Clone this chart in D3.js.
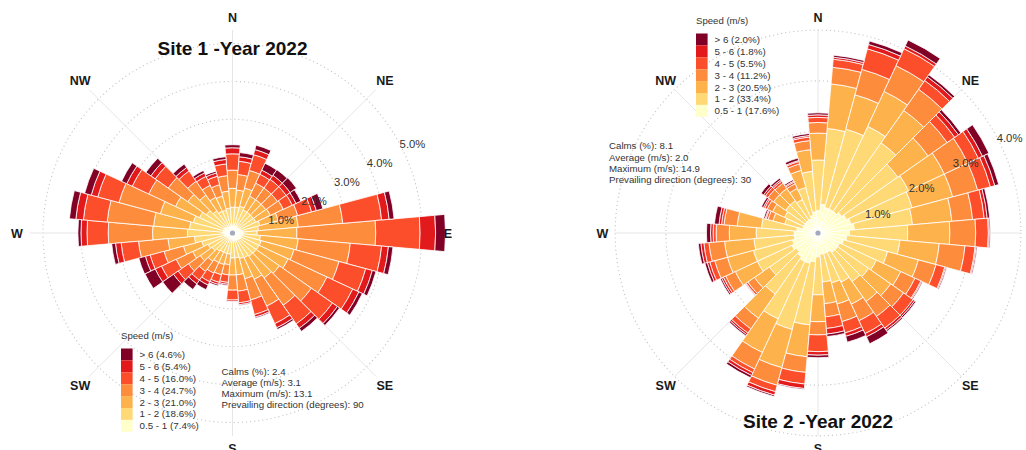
<!DOCTYPE html>
<html>
<head>
<meta charset="utf-8">
<script src="https://cdn.jsdelivr.net/npm/d3@7"></script>
<style>
  body { margin: 0; background: #fff; }
  text { font-family: "Liberation Sans", Arial, Helvetica, sans-serif; }
</style>
</head>
<body>
<svg id="chart" width="1026" height="450"></svg>
<script>
// Wind directions (degrees), one 10° sector each
const directions = d3.range(10, 361, 10);
const compassLabels = ["N", "NE", "E", "SE", "S", "SW", "W", "NW"];
const compassAngles = [0, 45, 90, 135, 180, 225, 270, 315];

// Speed classes, slowest first
const speedBins = ["0.5 - 1", "1 - 2", "2 - 3", "3 - 4", "4 - 5", "5 - 6", "> 6"];
const binColors = ["#ffffcc", "#fed976", "#feb24c", "#fd8d3c", "#fc4e2a", "#e31a1c", "#800026"];

// Site 1 — frequency (%) of each speed class for directions 10°..360°
const site1Speed05to1 = [.20,.21,.20,.20,.20,.21,.23,.27,.29,.27,.26,.25,.24,.23,.22,.21,.19,.19,.17,.17,.17,.17,.19,.19,.22,.24,.27,.25,.25,.24,.22,.20,.19,.18,.19,.19];
const site1Speed1to2  = [.49,.52,.47,.47,.47,.47,.52,.42,.36,.47,.52,.52,.52,.52,.50,.49,.47,.47,.39,.39,.39,.42,.47,.52,.62,.77,.92,.89,.82,.72,.62,.52,.45,.45,.47,.49];
const site1Speed2to3  = [.45,.50,.40,.40,.40,.42,.50,1.05,1.05,1.00,.90,.85,.75,.70,.63,.55,.45,.45,.28,.30,.30,.32,.38,.45,.50,.70,.92,.95,.90,.70,.60,.50,.40,.38,.45,.50];
const site1Speed3to4  = [.41,.48,.38,.38,.38,.38,.53,1.18,2.08,1.38,1.23,1.13,1.03,.88,.78,.58,.43,.40,.27,.28,.31,.33,.38,.48,.53,.78,1.17,1.23,1.13,.78,.63,.45,.35,.31,.41,.48];
const site1Speed4to5  = [.35,.43,.26,.28,.28,.26,.38,1.03,1.17,.83,.73,.75,.68,.60,.51,.40,.31,.26,.20,.21,.25,.28,.33,.43,.38,.46,.56,.63,.58,.48,.42,.33,.26,.23,.31,.43];
const site1Speed5to6  = [.12,.14,.12,.13,.13,.11,.13,.20,.41,.18,.18,.18,.16,.14,.12,.07,.05,.04,.05,.06,.10,.12,.15,.18,.13,.15,.16,.20,.18,.16,.14,.11,.10,.09,.12,.16];
const site1SpeedOver6 = [.11,.12,.20,.18,.20,.14,.18,.13,.26,.12,.10,.10,.07,.10,.05,.03,.02,.01,.03,.04,.13,.18,.35,.30,.18,.10,.08,.17,.18,.15,.16,.11,.07,.05,.07,.08];

// Site 2 — frequency (%) of each speed class for directions 10°..360°
const site2Speed05to1 = [.57,.52,.52,.52,.57,.62,.67,.72,.62,.57,.52,.47,.47,.47,.42,.42,.42,.47,.57,.62,.62,.57,.52,.57,.52,.47,.47,.42,.31,.31,.31,.31,.31,.36,.42,.44];
const site2Speed1to2  = [1.50,1.60,1.80,1.65,1.35,1.35,1.25,1.15,1.15,1.05,.90,.80,.75,.70,.65,.60,.55,.75,1.25,1.35,1.25,.90,.65,.75,.80,.80,.75,.70,.37,.42,.47,.47,.42,.57,.80,1.00];
const site2Speed2to3  = [.88,.70,.76,.78,.73,.78,.83,.78,.83,.78,.63,.53,.53,.48,.48,.43,.43,.53,.63,.78,.73,.58,.36,.48,.53,.58,.53,.48,.24,.26,.29,.29,.24,.35,.43,.53];
const site2Speed3to4  = [.33,.52,.56,.51,.46,.51,.51,.41,.51,.51,.36,.31,.31,.36,.36,.36,.26,.26,.31,.36,.36,.26,.16,.21,.26,.31,.26,.26,.10,.12,.14,.13,.10,.13,.18,.21];
const site2Speed4to5  = [.16,.42,.37,.21,.18,.23,.26,.23,.25,.20,.18,.13,.23,.28,.28,.23,.23,.33,.23,.13,.08,.10,.04,.05,.10,.10,.06,.05,.04,.05,.06,.05,.04,.05,.07,.10];
const site2Speed5to6  = [.04,.09,.06,.09,.09,.09,.09,.06,.02,.02,.02,.02,.04,.05,.07,.07,.11,.07,.09,.07,.06,.04,.01,.04,.05,.06,.05,.05,.02,.03,.04,.03,.02,.02,.03,.05];
const site2SpeedOver6 = [.04,.07,.13,.05,.06,.14,.08,.05,.02,.02,.02,.02,.03,.03,.15,.12,.05,.05,.02,.03,.05,.03,.01,.03,.05,.05,.08,.09,.03,.04,.06,.04,.03,.05,.04,.04];

// Legend shares and summary statistics
const site1Shares = ["4.6%", "5.4%", "16.0%", "24.7%", "21.0%", "18.6%", "7.4%"];
const site2Shares = ["2.0%", "1.8%", "5.5%", "11.2%", "20.5%", "33.4%", "17.6%"];
const site1Stats = ["Calms (%): 2.4", "Average (m/s): 3.1", "Maximum (m/s): 13.1", "Prevailing direction (degrees): 90"];
const site2Stats = ["Calms (%): 8.1", "Average (m/s): 2.0", "Maximum (m/s): 14.9", "Prevailing direction (degrees): 30"];
const site1Rings = [1, 2, 3, 4, 5];
const site2Rings = [1, 2, 3, 4];

const svg = d3.select("#chart");
const rad = Math.PI / 180;

function drawRose(cfg) {
  const g = svg.append("g").attr("transform", `translate(${cfg.cx},${cfg.cy})`);

  const table = directions.map((d, i) => {
    const row = { dir: d };
    speedBins.forEach((b, k) => { row[b] = cfg.series[k][i]; });
    return row;
  });
  const stacked = d3.stack().keys(speedBins)(table);
  const maxTotal = d3.max(stacked[stacked.length - 1], s => s[1]);
  const r = d3.scaleLinear().domain([0, maxTotal]).range([0, 213]);

  // dotted frequency rings
  g.selectAll("circle.ring").data(cfg.rings).join("circle")
    .attr("class", "ring")
    .attr("r", d => r(d))
    .attr("fill", "none")
    .attr("stroke", "#c4c4c4")
    .attr("stroke-width", 1.1)
    .attr("stroke-dasharray", "1.1,3");

  // compass spokes
  g.selectAll("line.spoke").data(compassAngles).join("line")
    .attr("class", "spoke")
    .attr("x1", 0).attr("y1", 0)
    .attr("x2", d => Math.sin(d * rad) * 203)
    .attr("y2", d => -Math.cos(d * rad) * 203)
    .attr("stroke", "#e6e6e6")
    .attr("stroke-width", 1);

  // stacked wedges
  const arc = d3.arc();
  stacked.forEach((layer, k) => {
    g.append("g").selectAll("path").data(layer).join("path")
      .attr("d", s => arc({
        innerRadius: r(s[0]),
        outerRadius: r(s[1]),
        startAngle: (s.data.dir - 5) * rad,
        endAngle: (s.data.dir + 5) * rad
      }))
      .attr("fill", binColors[k])
      .attr("stroke", "#ffffff")
      .attr("stroke-width", 0.8)
      .attr("stroke-linejoin", "round");
  });

  // centre marker
  g.append("circle").attr("r", 2.6).attr("fill", "#a3aac0");

  // ring labels along the 60° bearing
  g.selectAll("text.ringlab").data(cfg.rings).join("text")
    .attr("class", "ringlab")
    .attr("x", d => Math.sin(60 * rad) * r(d) + 3)
    .attr("y", d => -Math.cos(60 * rad) * r(d) + 6)
    .attr("dy", "0.35em")
    .attr("font-size", 11.3)
    .attr("fill", "#333")
    .text(d => d.toFixed(1) + "%");

  // compass labels
  g.selectAll("text.compass").data(compassLabels).join("text")
    .attr("class", "compass")
    .attr("x", (d, i) => Math.sin(compassAngles[i] * rad) * 215.5)
    .attr("y", (d, i) => -Math.cos(compassAngles[i] * rad) * 215.5)
    .attr("dy", "0.36em")
    .attr("text-anchor", "middle")
    .attr("font-size", 12.5)
    .attr("font-weight", "bold")
    .attr("fill", "#1a1a1a")
    .text(d => d);

  // title
  svg.append("text")
    .attr("x", cfg.cx).attr("y", cfg.titleY)
    .attr("dy", "0.36em")
    .attr("text-anchor", "middle")
    .attr("font-size", 19)
    .attr("font-weight", "bold")
    .attr("fill", "#111")
    .text(cfg.title);

  // legend
  const lg = svg.append("g").attr("transform", `translate(${cfg.legendX},${cfg.legendY})`);
  lg.append("text").attr("x", 0).attr("y", -12.5).attr("dy", "0.35em")
    .attr("font-size", 9.6).attr("fill", "#333").text("Speed (m/s)");
  const order = d3.range(speedBins.length - 1, -1, -1);
  lg.selectAll("rect").data(order).join("rect")
    .attr("x", 0).attr("y", (d, i) => i * 11.9)
    .attr("width", 11.6).attr("height", 11.9)
    .attr("fill", d => binColors[d]);
  lg.selectAll("text.item").data(order).join("text")
    .attr("class", "item")
    .attr("x", 18.5).attr("y", (d, i) => i * 11.9 + 6)
    .attr("dy", "0.35em")
    .attr("font-size", 9.8).attr("fill", "#333")
    .text((d, i) => `${speedBins[d]} (${cfg.shares[i]})`);

  // summary statistics
  svg.append("g").selectAll("text").data(cfg.stats).join("text")
    .attr("x", cfg.statsX).attr("y", (d, i) => cfg.statsY + i * 11.2)
    .attr("dy", "0.35em")
    .attr("font-size", 9.7).attr("fill", "#333")
    .text(d => d);
}

drawRose({
  cx: 232.5, cy: 233,
  series: [site1Speed05to1, site1Speed1to2, site1Speed2to3, site1Speed3to4, site1Speed4to5, site1Speed5to6, site1SpeedOver6],
  rings: site1Rings,
  title: "Site 1 -Year 2022", titleY: 48,
  legendX: 121, legendY: 348.5, shares: site1Shares,
  stats: site1Stats, statsX: 221.5, statsY: 371.5
});

drawRose({
  cx: 818, cy: 233,
  series: [site2Speed05to1, site2Speed1to2, site2Speed2to3, site2Speed3to4, site2Speed4to5, site2Speed5to6, site2SpeedOver6],
  rings: site2Rings,
  title: "Site 2 -Year 2022", titleY: 421.5,
  legendX: 696, legendY: 33.5, shares: site2Shares,
  stats: site2Stats, statsX: 609, statsY: 146
});
</script>
</body>
</html>
